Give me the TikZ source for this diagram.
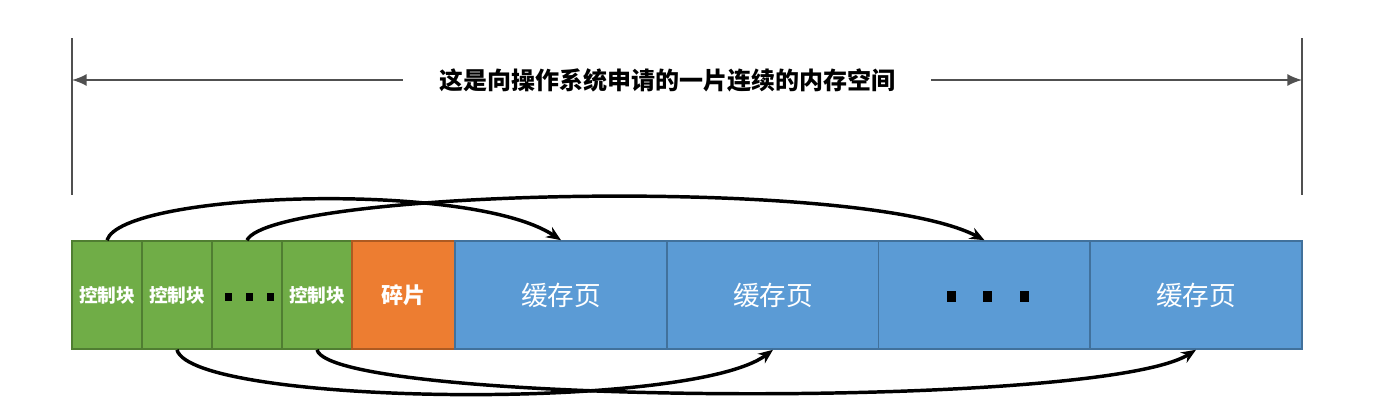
\documentclass[tikz,border=0pt]{standalone}
\usepackage{fontspec}
\newfontfamily\cjk{Noto Sans CJK SC}
\usetikzlibrary{arrows.meta}
\definecolor{gfill}{HTML}{70AD47}
\definecolor{gdraw}{HTML}{507E32}
\definecolor{ofill}{HTML}{ED7D31}
\definecolor{odraw}{HTML}{AE5A21}
\definecolor{bfill}{HTML}{5B9BD5}
\definecolor{bdraw}{HTML}{41719C}
\definecolor{dimline}{HTML}{505050}
\tikzset{
  cell/.style={minimum height=108*0.75pt, inner sep=0pt, line width=1.2pt, text=white},
  ctrl/.style={cell, fill=gfill, draw=gdraw, minimum width=70*0.75pt, font=\cjk\bfseries\fontsize{14}{16}\selectfont},
  frag/.style={cell, fill=ofill, draw=odraw, minimum width=103*0.75pt, font=\cjk\bfseries\fontsize{16.5}{18}\selectfont},
  page/.style={cell, fill=bfill, draw=bdraw, minimum width=212*0.75pt, font=\cjk\fontsize{20}{22}\selectfont},
  dot/.style={fill=black, inner sep=0pt},
  link/.style={line width=2.6pt, -{Stealth[length=11pt,width=9pt]}},
  dim/.style={draw=dimline, line width=1.2pt},
}
\begin{document}
\begin{tikzpicture}[x=0.75pt,y=-0.75pt]
\useasboundingbox (0,0) rectangle (1390,418);
% dimension lines
\coordinate (lt) at (72,38);
\coordinate (lb) at (72,195);
\coordinate (rt) at (1302,38);
\coordinate (rb) at (1302,195);
\coordinate (la) at (72,80);
\coordinate (ra) at (1302,80);
\draw[dim] (lt) -- (lb);
\draw[dim] (rt) -- (rb);
\node[font=\cjk\bfseries\fontsize{18}{20}\selectfont, inner xsep=27pt, inner ysep=0pt] (title) at (667,80) {这是向操作系统申请的一片连续的内存空间};
\draw[dim, -{Latex[length=11pt,width=9pt]}] (title.west) -- (la);
\draw[dim, -{Latex[length=11pt,width=9pt]}] (title.east) -- (ra);
% cells
\node[ctrl] (c1) at (107,295) {控制块};
\node[ctrl] (c2) at (177,295) {控制块};
\node[ctrl] (c3) at (247,295) {};
\node[ctrl] (c4) at (317,295) {控制块};
\node[frag] (f) at (403.5,295) {碎片};
\node[page] (p1) at (561,295) {缓存页};
\node[page] (p2) at (773,295) {缓存页};
\node[page] (p3) at (984.5,295) {};
\node[page] (p4) at (1196,295) {缓存页};
% dots
\node[dot, minimum width=7*0.75pt, minimum height=8*0.75pt] (d1) at (228,297) {};
\node[dot, minimum width=7*0.75pt, minimum height=8*0.75pt] (d2) at (249,297) {};
\node[dot, minimum width=7*0.75pt, minimum height=8*0.75pt] (d3) at (270,297) {};
\node[dot, minimum width=9*0.75pt, minimum height=11*0.75pt] (e1) at (951,296) {};
\node[dot, minimum width=9*0.75pt, minimum height=11*0.75pt] (e2) at (987,296) {};
\node[dot, minimum width=9*0.75pt, minimum height=11*0.75pt] (e3) at (1024,296) {};
% links
\draw[link] (c1.north) .. controls (122,192) and (470,180) .. (p1.north);
\draw[link] (c3.north) .. controls (272,190) and (860,175) .. (p3.north);
\draw[link] (c2.south) .. controls (192,405) and (690,412) .. (p2.south);
\draw[link] (c4.south) .. controls (332,405) and (1100,410) .. (p4.south);
\end{tikzpicture}
\end{document}
